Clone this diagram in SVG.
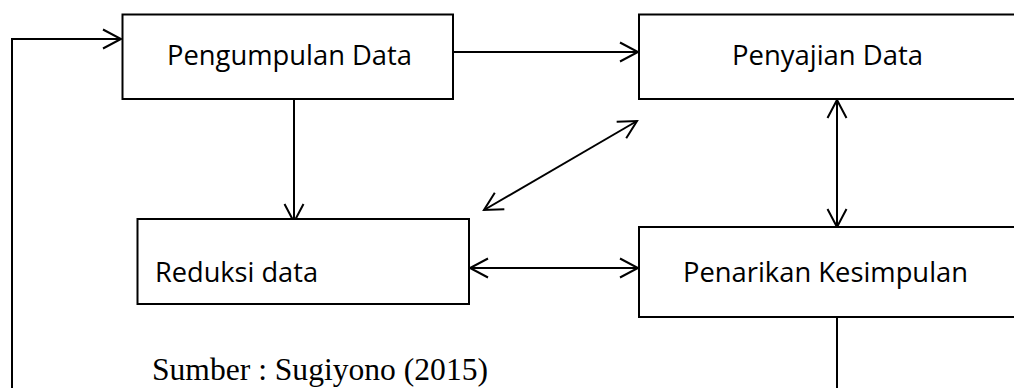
<svg xmlns="http://www.w3.org/2000/svg" width="1014" height="388" viewBox="0 0 1014 388">
  <style>
    .box { fill: #ffffff; stroke: #000000; stroke-width: 2; }
    .lbl { font-family: "Open Sans", "Noto Sans", sans-serif; font-size: 28px; fill: #000000; }
    .src { font-family: "Liberation Serif", "Times New Roman", serif; font-size: 31px; fill: #000000; }
    .conn { fill: none; stroke: #000000; stroke-width: 2; }
  </style>
  <defs>
    <marker id="arr" markerUnits="userSpaceOnUse" markerWidth="22" markerHeight="24" refX="18" refY="11" orient="auto-start-reverse" overflow="visible">
      <path d="M0,1.5 L18,11 L0,20.5" fill="none" stroke="#000000" stroke-width="2"/>
    </marker>
  </defs>
  <rect width="1014" height="388" fill="#ffffff"/>

  <g id="connectors">
    <path class="conn" d="M12,390 L12,39 L121,39" marker-end="url(#arr)"/>
    <path class="conn" d="M294,99 L294,222" marker-end="url(#arr)"/>
    <path class="conn" d="M453,52 L638,52" marker-end="url(#arr)"/>
    <path class="conn" d="M484,210 L637,121" marker-start="url(#arr)" marker-end="url(#arr)"/>
    <path class="conn" d="M470,268 L638,268" marker-start="url(#arr)" marker-end="url(#arr)"/>
    <path class="conn" d="M837,100 L837,227" marker-start="url(#arr)" marker-end="url(#arr)"/>
    <path class="conn" d="M837,317 L837,390"/>
  </g>

  <g id="node-pengumpulan">
    <rect class="box" x="122.5" y="14.5" width="330.5" height="84.5"/>
    <text class="lbl" x="167" y="65" textLength="245" lengthAdjust="spacingAndGlyphs">Pengumpulan Data</text>
  </g>
  <g id="node-penyajian">
    <rect class="box" x="639" y="14.5" width="400" height="84.5"/>
    <text class="lbl" x="732" y="65" textLength="191" lengthAdjust="spacingAndGlyphs">Penyajian Data</text>
  </g>
  <g id="node-reduksi">
    <rect class="box" x="137.5" y="219" width="331.5" height="85"/>
    <text class="lbl" x="155" y="282" textLength="163" lengthAdjust="spacingAndGlyphs">Reduksi data</text>
  </g>
  <g id="node-penarikan">
    <rect class="box" x="639" y="227" width="400" height="90"/>
    <text class="lbl" x="683" y="282" textLength="285" lengthAdjust="spacingAndGlyphs">Penarikan Kesimpulan</text>
  </g>

  <text class="src" x="152" y="380" textLength="336" lengthAdjust="spacingAndGlyphs">Sumber : Sugiyono (2015)</text>
</svg>
